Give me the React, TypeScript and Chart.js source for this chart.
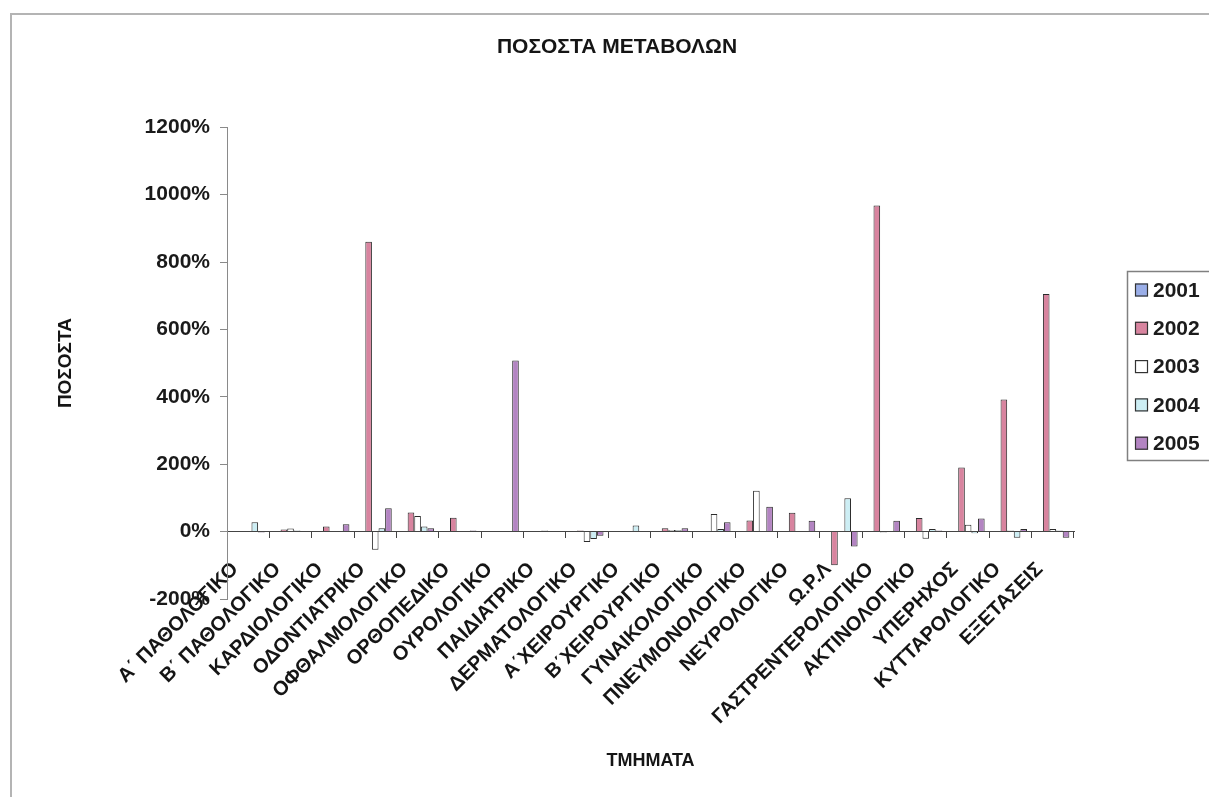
import { useEffect, useRef } from 'react';
import { Chart, registerables } from 'chart.js';

Chart.register(...registerables);

// Τμήματα (categories on the x axis)
const departments = [
  'Α΄ ΠΑΘΟΛΟΓΙΚΟ',
  'Β΄ ΠΑΘΟΛΟΓΙΚΟ',
  'ΚΑΡΔΙΟΛΟΓΙΚΟ',
  'ΟΔΟΝΤΙΑΤΡΙΚΟ',
  'ΟΦΘΑΛΜΟΛΟΓΙΚΟ',
  'ΟΡΘΟΠΕΔΙΚΟ',
  'ΟΥΡΟΛΟΓΙΚΟ',
  'ΠΑΙΔΙΑΤΡΙΚΟ',
  'ΔΕΡΜΑΤΟΛΟΓΙΚΟ',
  'Α΄ΧΕΙΡΟΥΡΓΙΚΟ',
  'Β΄ΧΕΙΡΟΥΡΓΙΚΟ',
  'ΓΥΝΑΙΚΟΛΟΓΙΚΟ',
  'ΠΝΕΥΜΟΝΟΛΟΓΙΚΟ',
  'ΝΕΥΡΟΛΟΓΙΚΟ',
  'Ω.Ρ.Λ',
  'ΓΑΣΤΡΕΝΤΕΡΟΛΟΓΙΚΟ',
  'ΑΚΤΙΝΟΛΟΓΙΚΟ',
  'ΥΠΕΡΗΧΟΣ',
  'ΚΥΤΤΑΡΟΛΟΓΙΚΟ',
  'ΕΞΕΤΑΣΕΙΣ',
];

const years = ['2001', '2002', '2003', '2004', '2005'];

// Percentage change per department and year
const change2001 = [0, 0, 0, 0, 0, 0, 0, 0, 0, 0, 0, 0, 0, 0, 0, 0, 0, 0, 0, 0];
const change2002 = [2, 6, 15, 860, 57, 41, 0, 0, 3, 0, 10, 0, 33, 56, -100, 968, 40, 190, 392, 705];
const change2003 = [0, 9, 2, -54, 46, 2, 0, 3, -31, 0, 5, 52, 121, 2, 0, -3, -21, 20, 3, 8];
const change2004 = [28, 3, 2, 10, 15, 0, 0, 2, -22, 18, 4, 8, 2, 2, 99, 0, 8, -5, -18, 3];
const change2005 = [-3, 2, 22, 69, 10, 3, 508, 0, -12, 0, 10, 28, 74, 32, -44, 32, 3, 39, 8, -18];

const seriesValues = [change2001, change2002, change2003, change2004, change2005];
const seriesColors = ['#9AAEE8', '#D8849F', '#FFFFFF', '#CDEEF4', '#B384C2'];

const yTicks = { min: -200, max: 1200, step: 200 };

const FONT = '"Liberation Sans", Arial, Helvetica, sans-serif';

// Boxed legend on the right-hand side
const boxedLegend = {
  id: 'boxedLegend',
  afterDraw(chart: any) {
    const ctx = chart.ctx as CanvasRenderingContext2D;
    ctx.save();
    ctx.strokeStyle = '#808080';
    ctx.lineWidth = 1.5;
    ctx.strokeRect(1127.5, 271.5, 120, 189);
    ctx.font = `bold 21px ${FONT}`;
    ctx.textBaseline = 'middle';
    ctx.textAlign = 'left';
    years.forEach((yr, i) => {
      const cy = 290 + i * 38.3;
      ctx.fillStyle = seriesColors[i];
      ctx.fillRect(1135, cy - 6.5, 13, 13);
      ctx.strokeStyle = '#333';
      ctx.lineWidth = 1.2;
      ctx.strokeRect(1135.5, cy - 6, 12, 12);
      ctx.fillStyle = '#1c1c1c';
      ctx.fillText(yr, 1153, cy + 1);
    });
    ctx.restore();
  },
};

export default function App() {
  const canvasRef = useRef<HTMLCanvasElement | null>(null);

  useEffect(() => {
    const canvas = canvasRef.current;
    if (!canvas) return;

    const chart = new Chart(canvas, {
      type: 'bar',
      data: {
        labels: departments,
        datasets: years.map((yr, i) => ({
          label: yr,
          data: seriesValues[i],
          backgroundColor: seriesColors[i],
          borderColor: '#2b2b2b',
          borderWidth: 1,
          categoryPercentage: 0.78,
          barPercentage: 1.0,
        })),
      },
      options: {
        responsive: false,
        animation: false,
        layout: { padding: { left: 25, right: 0, top: 0, bottom: 198 } },
        plugins: {
          legend: { display: false },
          tooltip: { enabled: false },
          title: {
            display: true,
            text: 'ΠΟΣΟΣΤΑ ΜΕΤΑΒΟΛΩΝ',
            color: '#151515',
            font: { family: FONT, size: 21, weight: 'bold' },
            padding: { top: 35, bottom: 67 },
          },
        },
        scales: {
          x: {
            position: { y: 0 } as any,
            grid: {
              display: true,
              drawOnChartArea: false,
              drawTicks: true,
              tickLength: 6,
              color: '#444',
              offset: true,
            },
            border: { display: true, color: '#444', width: 1 },
            ticks: {
              autoSkip: false,
              minRotation: 45,
              maxRotation: 45,
              padding: 20,
              labelOffset: -13,
              color: '#151515',
              font: { family: FONT, size: 20, weight: 'bold' },
            },
            title: {
              display: true,
              text: 'ΤΜΗΜΑΤΑ',
              color: '#151515',
              font: { family: FONT, size: 18, weight: 'bold' },
              padding: { top: 1, bottom: 0 },
            },
          },
          y: {
            position: 'left',
            min: yTicks.min,
            max: yTicks.max,
            ticks: {
              stepSize: yTicks.step,
              padding: 10,
              color: '#1a1a1a',
              font: { family: FONT, size: 21, weight: 'bold' },
              callback: (v: any) => `${v}%`,
            },
            grid: { drawOnChartArea: false, drawTicks: true, tickLength: 7, color: '#8a8a8a' },
            border: { display: true, color: '#8a8a8a', width: 1 },
            title: {
              display: true,
              text: 'ΠΟΣΟΣΤΑ',
              color: '#151515',
              font: { family: FONT, size: 19, weight: 'bold' },
              padding: { top: 29, bottom: 0 },
            },
            afterFit: (s: any) => {
              s.width = 202;
            },
          },
          yR: {
            type: 'linear',
            position: 'right',
            display: true,
            grid: { display: false },
            border: { display: false },
            ticks: { display: false },
            afterFit: (s: any) => {
              s.width = 135;
            },
          },
        },
      },
      plugins: [boxedLegend],
    });

    return () => chart.destroy();
  }, []);

  return (
    <div
      style={{
        position: 'fixed',
        left: 0,
        top: 0,
        width: 1209,
        height: 797,
        overflow: 'hidden',
        background: '#ffffff',
      }}
    >
      <canvas ref={canvasRef} width={1209} height={797} style={{ display: 'block' }} />
      <div
        style={{
          position: 'absolute',
          left: 10,
          top: 13,
          width: 1400,
          height: 1000,
          borderTop: '2px solid #b4b4b4',
          borderLeft: '2px solid #b4b4b4',
          pointerEvents: 'none',
        }}
      />
    </div>
  );
}
